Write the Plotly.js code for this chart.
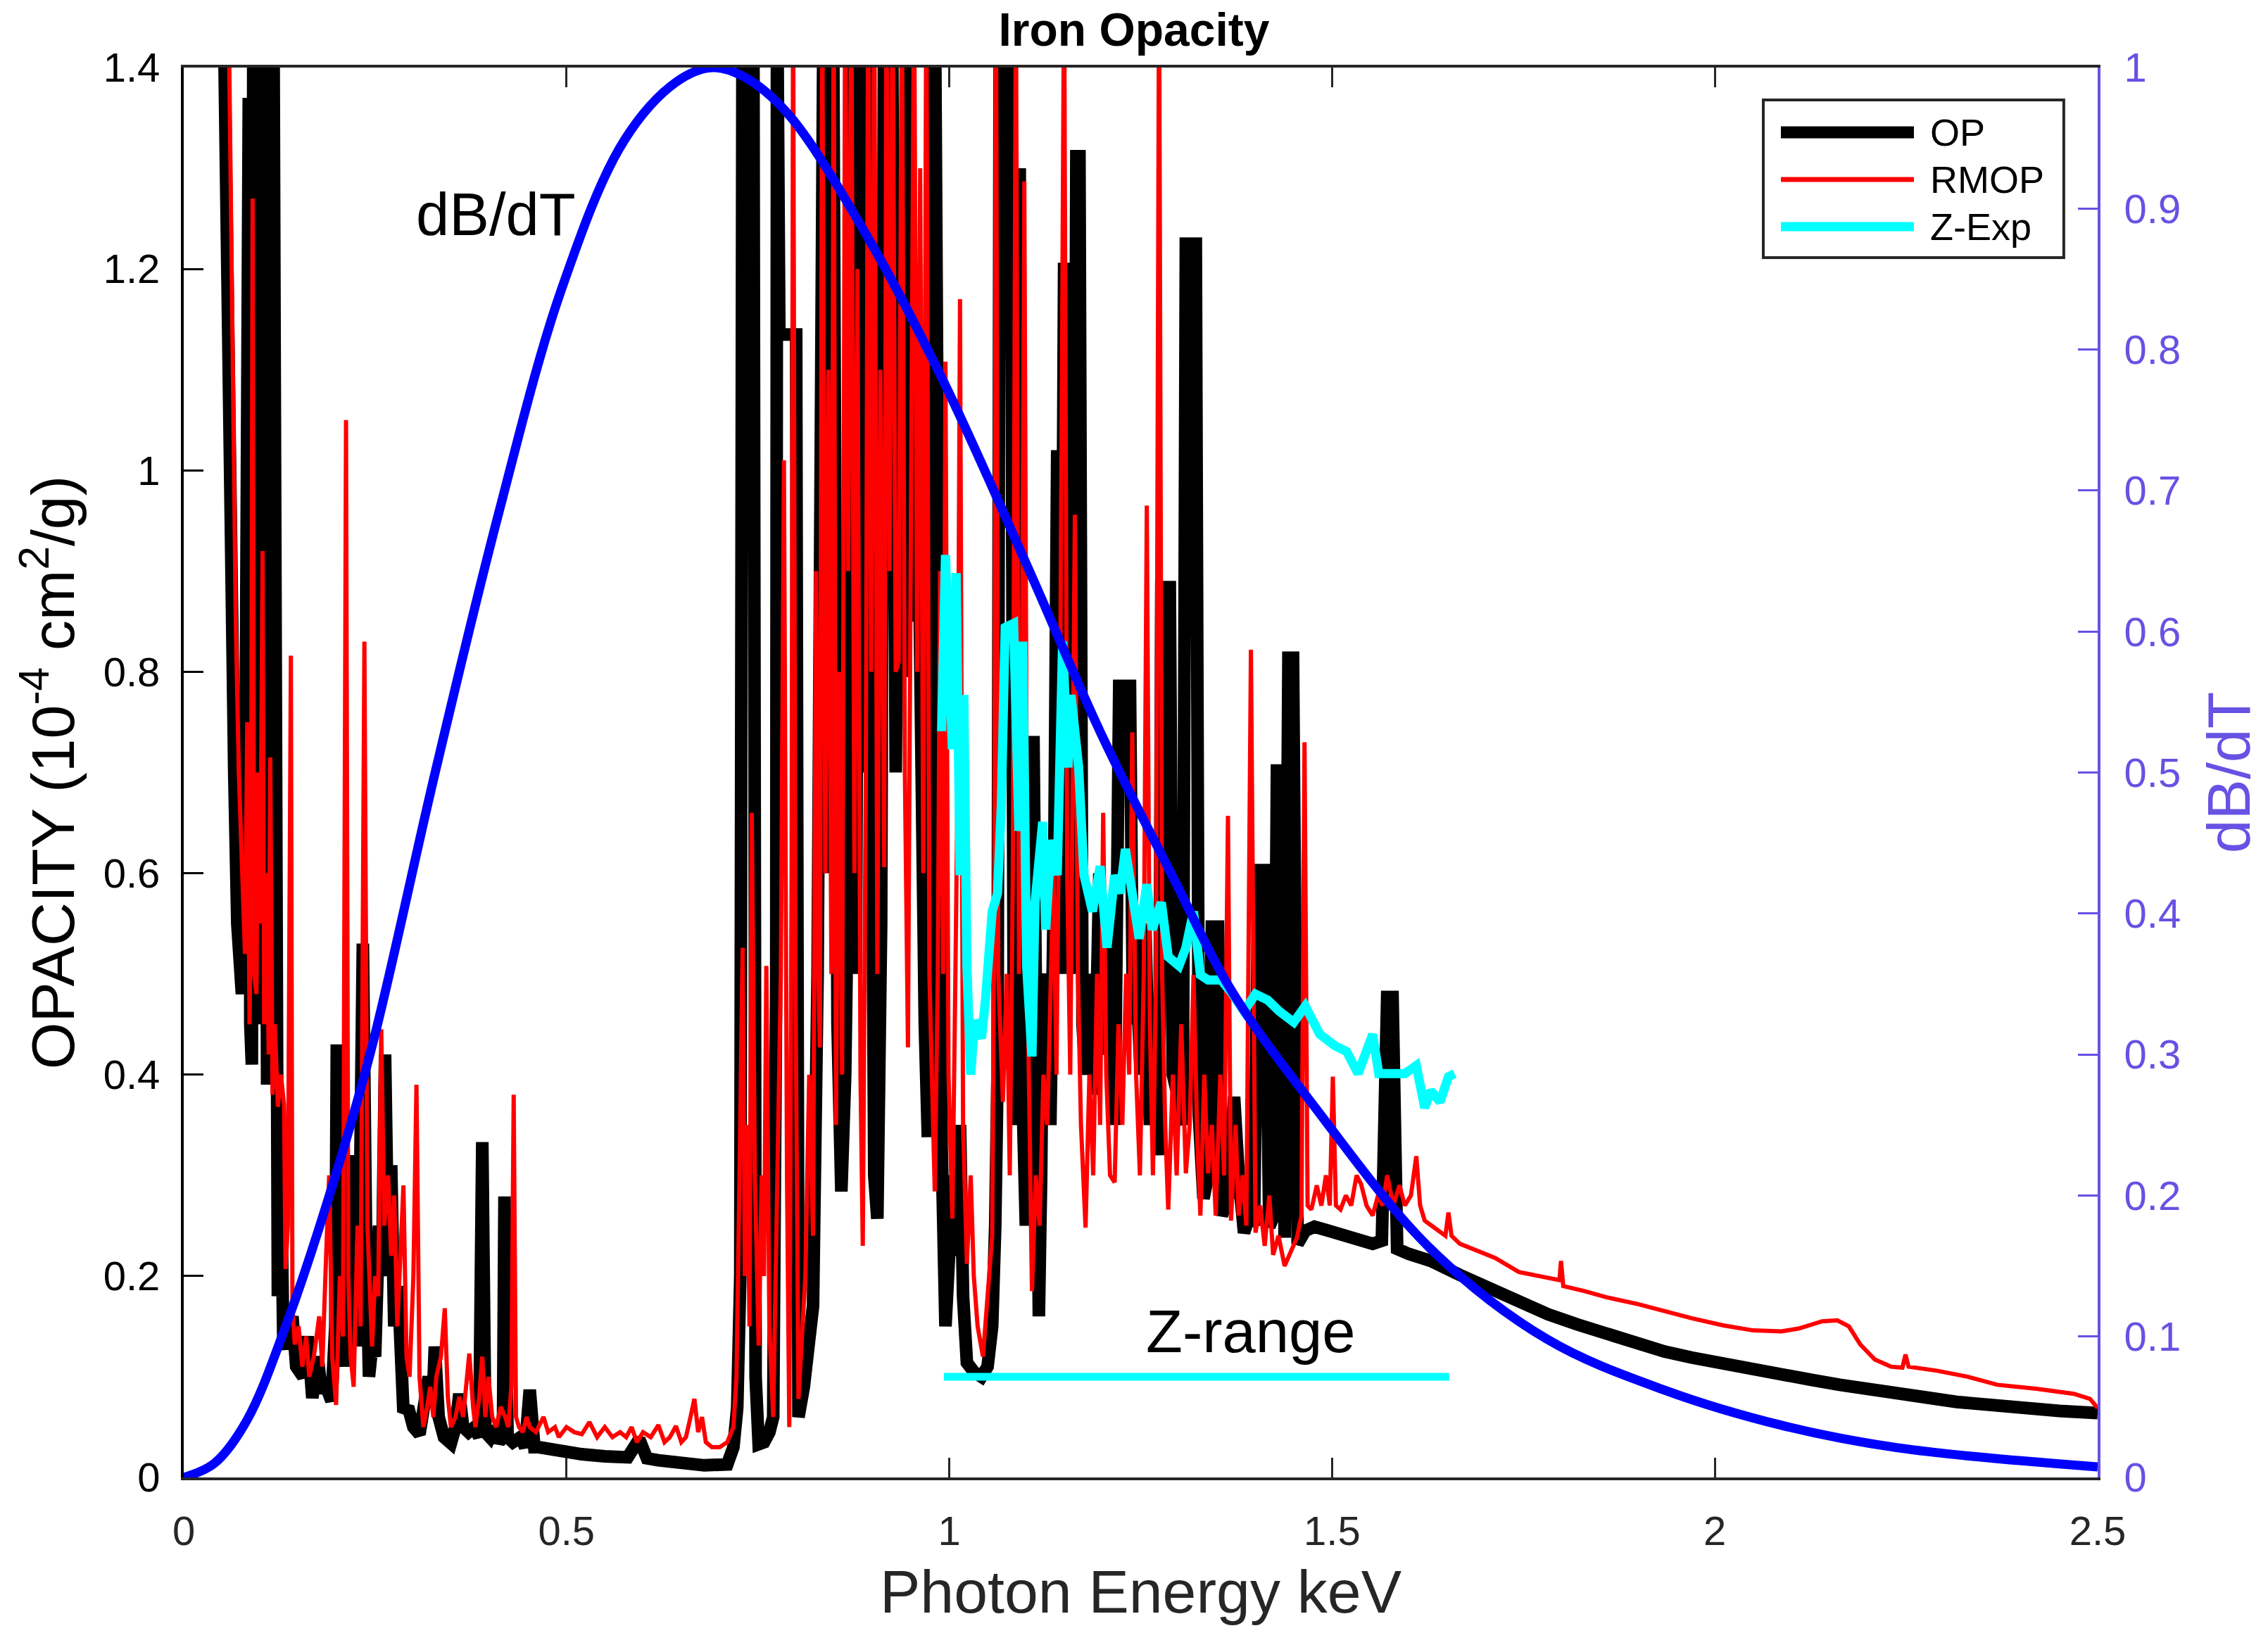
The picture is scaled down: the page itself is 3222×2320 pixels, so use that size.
<!DOCTYPE html>
<html>
<head>
<meta charset="utf-8">
<script src="https://cdn.plot.ly/plotly-3.0.1.min.js"></script>
<style>
  html, body { margin: 0; padding: 0; background: #ffffff; }
  #chart { width: 3222px; height: 2320px; }
</style>
</head>
<body>
<div id="chart"></div>
<script>
// Iron opacity: OP vs RMOP vs Z-pinch experiment, with dB/dT on the right axis.
// Values read off the reference picture.

const opX = [0.048,0.055,0.062,0.066,0.070,0.076,0.080,0.082,0.085,0.087,0.089,0.091,0.094,0.097,0.100,0.103,0.106,0.109,0.111,0.114,0.117,0.119,0.121,0.123,0.127,
  0.130,0.135,0.142,0.147,0.156,0.162,0.168,0.175,0.180,0.186,0.193,0.198,0.200,0.203,0.208,0.212,0.216,0.218,0.221,0.225,0.228,0.232,0.234,0.238,0.242,0.246,0.250,
  0.255,0.259,0.263,0.267,0.271,0.275,0.280,0.284,0.287,0.293,0.300,0.308,0.315,0.320,0.325,0.328,0.333,0.340,0.349,0.355,0.360,0.365,0.372,0.380,0.386,0.390,0.394,
  0.400,0.406,0.412,0.417,0.419,0.423,0.430,0.440,0.446,0.452,0.458,0.464,0.475,0.493,0.520,0.550,0.580,0.595,0.605,0.620,0.640,0.680,0.710,0.718,0.723,0.727,0.730,
  0.744,0.747,0.751,0.758,0.765,0.770,0.774,0.775,0.778,0.800,0.803,0.810,0.816,0.822,0.828,0.832,0.836,0.842,0.848,0.854,0.859,0.864,0.868,0.872,0.878,0.883,0.888,
  0.893,0.898,0.902,0.906,0.911,0.915,0.920,0.925,0.930,0.935,0.939,0.945,0.950,0.958,0.963,0.968,0.972,0.976,0.981,0.985,0.990,0.995,1.000,1.005,1.009,1.014,1.018,
  1.023,1.032,1.042,1.050,1.056,1.060,1.063,1.066,1.080,1.084,1.088,1.092,1.095,1.100,1.103,1.110,1.113,1.117,1.120,1.122,1.128,1.132,1.137,1.141,1.145,1.150,1.158,
  1.162,1.166,1.170,1.174,1.178,1.185,1.190,1.196,1.203,1.210,1.216,1.222,1.236,1.240,1.244,1.250,1.256,1.262,1.268,1.274,1.277,1.288,1.292,1.300,1.305,1.309,1.322,
  1.326,1.332,1.338,1.343,1.351,1.356,1.365,1.372,1.378,1.385,1.392,1.398,1.404,1.412,1.418,1.424,1.428,1.434,1.438,1.443,1.449,1.455,1.465,1.477,1.495,1.515,1.535,
  1.553,1.565,1.572,1.579,1.585,1.600,1.629,1.667,1.705,1.744,1.782,1.820,1.858,1.900,1.934,1.970,2.011,2.050,2.087,2.125,2.163,2.200,2.240,2.280,2.316,2.355,2.392,
  2.450,2.500];
const opY = [1.7,1.2,0.85,0.70,0.55,0.48,0.60,1.37,1.37,0.45,0.41,1.5,0.6,1.5,0.45,1.5,0.42,0.39,1.5,0.5,1.5,0.25,1.5,0.18,0.30,
  0.14,0.128,0.16,0.11,0.10,0.14,0.079,0.12,0.085,0.09,0.076,0.15,0.43,0.15,0.2,0.11,0.24,0.32,0.14,0.30,0.13,0.30,0.53,0.25,0.10,0.13,0.12,
  0.25,0.20,0.42,0.22,0.31,0.15,0.19,0.10,0.065,0.07,0.05,0.043,0.07,0.10,0.07,0.13,0.06,0.04,0.034,0.05,0.083,0.05,0.045,0.05,0.04,0.333,0.045,
  0.04,0.05,0.035,0.04,0.279,0.04,0.035,0.04,0.03,0.087,0.03,0.03,0.028,0.025,0.023,0.021,0.02,0.038,0.019,0.017,0.015,0.012,0.013,0.03,0.069,0.2,1.5,
  1.5,0.1,0.033,0.035,0.045,0.06,0.5,1.5,1.135,1.135,0.06,0.09,0.12,0.17,0.5,0.9,1.5,0.6,1.5,0.45,0.284,0.4,0.616,1.5,0.5,1.5,0.7,
  1.5,0.5,0.3,0.257,0.55,1.5,0.9,1.5,0.7,1.2,0.795,1.5,0.85,1.06,0.6,0.45,0.338,0.6,1.5,0.6,0.329,0.15,0.25,0.3,0.22,0.35,0.18,
  0.114,0.105,0.100,0.11,0.15,0.25,0.4,1.5,1.5,0.5,0.35,1.3,0.4,0.25,0.73,0.73,0.3,0.16,0.3,0.463,0.5,0.35,0.6,1.02,0.5,1.2,1.2,
  0.5,1.312,1.312,0.45,0.40,0.5,0.38,0.6,0.42,0.55,0.35,0.786,0.786,0.45,0.508,0.4,0.55,0.35,0.45,0.32,0.884,0.884,0.4,0.374,0.35,1.225,1.225,
  0.36,0.277,0.3,0.547,0.547,0.26,0.28,0.378,0.3,0.243,0.26,0.25,0.603,0.603,0.249,0.26,0.702,0.702,0.238,0.814,0.814,0.232,0.245,0.249,0.245,0.241,0.238,
  0.232,0.235,0.477,0.477,0.227,0.222,0.215,0.201,0.187,0.174,0.162,0.152,0.142,0.133,0.125,0.119,0.114,0.108,0.103,0.097,0.092,0.087,0.083,0.079,0.075,0.072,0.069,
  0.066,0.064];

const rmopX = [0.055,0.062,0.068,0.072,0.076,0.080,0.083,0.086,0.088,0.090,0.092,0.095,0.097,0.100,0.103,0.105,0.108,0.111,0.113,0.116,0.119,0.123,0.127,0.131,0.133,
  0.136,0.140,0.142,0.145,0.150,0.155,0.160,0.164,0.170,0.177,0.181,0.186,0.190,0.194,0.199,0.204,0.208,0.212,0.215,0.218,0.222,0.227,0.231,0.236,0.240,0.246,0.250,
  0.254,0.258,0.262,0.267,0.271,0.275,0.279,0.283,0.287,0.291,0.295,0.300,0.304,0.308,0.313,0.318,0.322,0.326,0.330,0.336,0.341,0.345,0.349,0.355,0.360,0.365,0.373,
  0.378,0.381,0.386,0.390,0.394,0.398,0.403,0.408,0.414,0.420,0.424,0.428,0.431,0.434,0.438,0.443,0.448,0.452,0.460,0.470,0.476,0.485,0.490,0.500,0.510,0.520,0.530,
  0.540,0.550,0.560,0.570,0.578,0.585,0.592,0.600,0.610,0.620,0.628,0.635,0.643,0.650,0.656,0.662,0.667,0.672,0.677,0.682,0.690,0.700,0.710,0.718,0.722,0.726,0.730,
  0.733,0.736,0.739,0.742,0.746,0.749,0.751,0.755,0.758,0.761,0.765,0.770,0.775,0.780,0.784,0.788,0.791,0.794,0.796,0.799,0.803,0.808,0.812,0.817,0.822,0.826,0.829,
  0.831,0.834,0.838,0.842,0.846,0.849,0.852,0.856,0.860,0.864,0.868,0.872,0.876,0.880,0.884,0.887,0.891,0.894,0.898,0.902,0.906,0.910,0.915,0.918,0.922,0.926,0.930,
  0.934,0.938,0.942,0.946,0.950,0.954,0.958,0.962,0.966,0.970,0.974,0.978,0.981,0.985,0.988,0.992,0.995,0.999,1.004,1.008,1.011,1.014,1.018,1.023,1.028,1.032,1.037,
  1.044,1.050,1.056,1.059,1.061,1.064,1.070,1.075,1.079,1.083,1.087,1.091,1.095,1.098,1.102,1.108,1.113,1.118,1.123,1.128,1.131,1.136,1.140,1.145,1.150,1.154,1.158,
  1.164,1.168,1.172,1.178,1.183,1.188,1.193,1.197,1.201,1.205,1.210,1.216,1.221,1.226,1.231,1.235,1.239,1.244,1.249,1.254,1.258,1.262,1.266,1.270,1.274,1.278,1.282,
  1.286,1.292,1.297,1.303,1.309,1.314,1.319,1.324,1.328,1.333,1.338,1.343,1.348,1.354,1.359,1.364,1.368,1.374,1.378,1.383,1.388,1.394,1.400,1.406,1.412,1.418,1.423,
  1.430,1.438,1.446,1.454,1.460,1.464,1.468,1.473,1.480,1.486,1.492,1.497,1.501,1.505,1.511,1.518,1.525,1.532,1.538,1.545,1.553,1.560,1.566,1.572,1.580,1.588,1.595,
  1.603,1.610,1.615,1.621,1.630,1.640,1.648,1.652,1.656,1.667,1.690,1.713,1.744,1.770,1.797,1.799,1.802,1.830,1.858,1.900,1.934,1.970,2.011,2.050,2.087,2.110,2.140,
  2.160,2.175,2.190,2.209,2.230,2.245,2.249,2.253,2.290,2.330,2.369,2.420,2.469,2.490,2.500];
const rmopY = [1.7,1.2,0.85,0.70,0.6,0.52,0.75,0.45,0.6,1.27,0.5,0.48,0.7,0.55,0.92,0.45,0.6,0.42,0.715,0.38,0.45,0.368,0.4,0.37,0.207,
  0.25,0.816,0.17,0.132,0.15,0.11,0.14,0.10,0.12,0.16,0.11,0.22,0.30,0.12,0.072,0.2,0.14,1.05,0.2,0.12,0.09,0.25,0.15,0.83,0.25,0.13,0.2,
  0.18,0.445,0.25,0.3,0.22,0.28,0.15,0.22,0.29,0.12,0.1,0.2,0.39,0.1,0.05,0.07,0.09,0.06,0.1,0.12,0.168,0.08,0.05,0.06,0.08,0.06,0.123,
  0.07,0.05,0.08,0.12,0.06,0.1,0.06,0.05,0.07,0.06,0.05,0.09,0.38,0.06,0.05,0.045,0.06,0.05,0.045,0.06,0.045,0.05,0.04,0.05,0.045,0.043,0.055,
  0.04,0.05,0.04,0.045,0.04,0.05,0.035,0.045,0.04,0.052,0.035,0.04,0.051,0.035,0.04,0.06,0.078,0.045,0.06,0.035,0.03,0.03,0.035,0.05,0.1,0.3,0.526,
  0.2,0.35,0.15,0.66,0.3,0.2,0.131,0.3,0.2,0.508,0.15,0.06,0.3,0.5,1.01,0.3,0.05,0.6,1.5,0.5,0.078,0.15,0.2,0.4,0.24,0.9,0.5,
  0.427,1.5,0.6,1.1,0.5,1.5,0.35,0.8,0.4,1.5,0.9,1.5,0.6,1.2,0.4,0.23,0.7,1.5,0.8,1.5,0.5,1.1,0.606,1.5,0.9,1.5,0.8,
  0.81,1.5,0.7,0.427,0.9,1.5,0.8,1.3,0.6,1.5,0.5,0.35,0.284,0.5,0.9,0.5,1.108,0.4,0.257,0.5,0.7,1.17,0.35,0.212,0.3,0.2,0.15,
  0.12,0.18,0.24,0.6,1.5,0.5,0.373,0.5,0.3,0.6,1.5,0.5,0.8,1.287,0.5,0.185,0.3,0.25,0.4,0.35,0.463,0.6,0.4,0.8,1.5,0.6,0.4,
  0.956,0.5,0.35,0.248,0.4,0.3,0.5,0.35,0.66,0.4,0.3,0.293,0.45,0.35,0.5,0.4,0.74,0.4,0.3,0.5,0.965,0.45,0.3,0.5,1.5,0.5,0.35,
  0.266,0.4,0.3,0.45,0.302,0.35,0.499,0.333,0.26,0.4,0.302,0.35,0.26,0.4,0.3,0.657,0.255,0.35,0.26,0.3,0.25,0.822,0.243,0.27,0.23,0.28,0.221,
  0.24,0.21,0.225,0.238,0.26,0.73,0.27,0.266,0.29,0.27,0.3,0.27,0.398,0.27,0.266,0.28,0.27,0.3,0.291,0.27,0.26,0.28,0.27,0.3,0.27,0.29,0.27,
  0.28,0.319,0.27,0.255,0.25,0.245,0.24,0.263,0.24,0.232,0.225,0.218,0.204,0.2,0.196,0.215,0.19,0.185,0.179,0.172,0.165,0.158,0.151,0.146,0.145,0.148,0.155,
  0.156,0.15,0.132,0.117,0.11,0.109,0.122,0.11,0.106,0.1,0.092,0.088,0.083,0.078,0.069];

const zExpX = [0.990,0.995,1.004,1.009,1.014,1.019,1.023,1.028,1.033,1.042,1.047,1.056,1.063,1.068,1.073,1.084,1.091,1.096,1.101,1.108,1.112,1.122,1.126,1.133,1.141,
  1.148,1.155,1.159,1.169,1.176,1.187,1.197,1.206,1.216,1.223,1.230,1.239,1.248,1.258,1.265,1.277,1.286,1.300,1.309,1.319,1.328,1.338,1.355,1.370,1.385,1.400,1.416,
  1.431,1.450,1.465,1.484,1.503,1.519,1.534,1.545,1.553,1.561,1.576,1.595,1.610,1.621,1.629,1.641,1.652,1.660];
const zExpY = [0.741,0.916,0.723,0.898,0.598,0.777,0.508,0.400,0.454,0.436,0.472,0.562,0.580,0.669,0.844,0.848,0.642,0.830,0.508,0.418,0.571,0.651,0.544,0.633,0.598,
  0.830,0.705,0.777,0.705,0.598,0.562,0.607,0.526,0.598,0.580,0.624,0.580,0.535,0.589,0.544,0.571,0.517,0.508,0.526,0.562,0.499,0.494,0.494,0.480,0.463,0.480,0.474,
  0.463,0.452,0.468,0.440,0.429,0.423,0.401,0.423,0.440,0.401,0.401,0.401,0.409,0.367,0.384,0.373,0.398,0.401];

// measured band of the Z experiment
const zRangeX = [0.993, 1.653];
const zRangeY = [0.1, 0.1];

// dB/dT on the right axis
const dbdtX = [0,0.040,0.082,0.135,0.197,0.247,0.328,0.410,0.493,0.575,0.644,0.690,0.730,0.788,0.892,0.991,1.103,1.197,1.291,1.370,1.477,1.629,1.781,1.934,2.087,2.239,2.500];
const dbdtY = [0,0.010,0.040,0.110,0.212,0.308,0.499,0.681,0.842,0.948,0.990,1.000,0.994,0.968,0.881,0.779,0.645,0.529,0.427,0.344,0.263,0.162,0.098,0.062,0.037,0.021,0.0075];

const seriesNames = ['OP', 'RMOP', 'Z-Exp'];
const xTickVals = [0, 0.5, 1, 1.5, 2, 2.5];

const FONT = '"Liberation Sans", Arial, Helvetica, sans-serif';
const AXIS_GRAY = '#262626';
const RIGHT_COLOR = '#6652e3';
const colors = ['#000000', '#ff0000', '#00ffff'];
const widths = [18, 6, 13];

const traces = [
  { x: opX, y: opY, type: 'scatter', mode: 'lines', name: seriesNames[0],
    line: { color: colors[0], width: widths[0] }, showlegend: false },
  { x: rmopX, y: rmopY, type: 'scatter', mode: 'lines', name: seriesNames[1],
    line: { color: colors[1], width: widths[1] }, showlegend: false },
  { x: zExpX, y: zExpY, type: 'scatter', mode: 'lines', name: seriesNames[2],
    line: { color: colors[2], width: widths[2] }, showlegend: false },
  { x: zRangeX, y: zRangeY, type: 'scatter', mode: 'lines', name: 'Z-range',
    line: { color: colors[2], width: 11 }, showlegend: false },
  { x: dbdtX, y: dbdtY, type: 'scatter', mode: 'lines', name: 'dB/dT', yaxis: 'y2',
    line: { color: '#0000ff', width: 13, shape: 'spline', smoothing: 1 }, showlegend: false },
];

// hand-made legend box (MATLAB style, long line samples)
const leg = { x0: 0.8253, x1: 0.9823, y0: 0.8652, y1: 0.9770,
              sx0: 0.8345, sx1: 0.9040, tx: 0.9117, rows: [0.9541, 0.9206, 0.8872] };
const legendWidths = [17, 7, 13];

const shapes = [
  { type: 'rect', xref: 'paper', yref: 'paper', x0: leg.x0, x1: leg.x1, y0: leg.y0, y1: leg.y1,
    line: { color: AXIS_GRAY, width: 4 }, fillcolor: '#ffffff', layer: 'above' },
];
const annotations = [
  { text: 'dB/dT', x: 0.408, y: 1.254, xref: 'x', yref: 'y', showarrow: false,
    font: { family: FONT, size: 85, color: '#000000' } },
  { text: 'Z-range', x: 1.394, y: 0.145, xref: 'x', yref: 'y', showarrow: false,
    font: { family: FONT, size: 85, color: '#000000' } },
];
seriesNames.forEach((nm, i) => {
  shapes.push({ type: 'line', xref: 'paper', yref: 'paper', x0: leg.sx0, x1: leg.sx1,
    y0: leg.rows[i], y1: leg.rows[i], line: { color: colors[i], width: legendWidths[i] }, layer: 'above' });
  annotations.push({ text: nm, xref: 'paper', yref: 'paper', x: leg.tx, y: leg.rows[i],
    xanchor: 'left', yanchor: 'middle', showarrow: false,
    font: { family: FONT, size: 54, color: '#000000' } });
});

const layout = {
  width: 3222, height: 2320,
  margin: { l: 261, r: 242, t: 96, b: 221 },
  paper_bgcolor: '#ffffff', plot_bgcolor: '#ffffff',
  font: { family: FONT, color: '#000000' },
  title: { text: '<b>Iron Opacity</b>', x: 0.5, xanchor: 'center', y: 0.982, yanchor: 'middle',
           font: { family: FONT, size: 66, color: '#000000' } },
  showlegend: false,
  xaxis: {
    range: [0, 2.5], tickvals: xTickVals, ticks: 'inside', ticklen: 28, tickwidth: 3,
    tickcolor: AXIS_GRAY, showline: true, linecolor: AXIS_GRAY, linewidth: 4, mirror: 'ticks',
    showgrid: false, zeroline: false, ticklabelstandoff: 22,
    tickfont: { family: FONT, size: 58, color: AXIS_GRAY },
    title: { text: 'Photon Energy keV', standoff: 26, font: { family: FONT, size: 86, color: AXIS_GRAY } },
  },
  yaxis: {
    range: [0, 1.4], dtick: 0.2, ticks: 'inside', ticklen: 28, tickwidth: 3,
    tickcolor: '#000000', showline: true, linecolor: '#000000', linewidth: 4,
    showgrid: false, zeroline: false, ticklabelstandoff: 18,
    tickfont: { family: FONT, size: 58, color: '#000000' },
    title: { text: 'OPACITY (10<sup>-4</sup> cm<sup>2</sup>/g)', standoff: 14,
             font: { family: FONT, size: 86, color: '#000000' } },
  },
  yaxis2: {
    range: [0, 1], dtick: 0.1, overlaying: 'y', side: 'right', ticks: 'inside', ticklen: 28, tickwidth: 3,
    tickcolor: RIGHT_COLOR, showline: true, linecolor: RIGHT_COLOR, linewidth: 4,
    showgrid: false, zeroline: false, ticklabelstandoff: 22,
    tickfont: { family: FONT, size: 58, color: RIGHT_COLOR },
    title: { text: 'dB/dT', standoff: 40, font: { family: FONT, size: 86, color: RIGHT_COLOR } },
  },
  shapes: shapes,
  annotations: annotations,
};

Plotly.newPlot('chart', traces, layout, { displayModeBar: false, responsive: false });
</script>
</body>
</html>
